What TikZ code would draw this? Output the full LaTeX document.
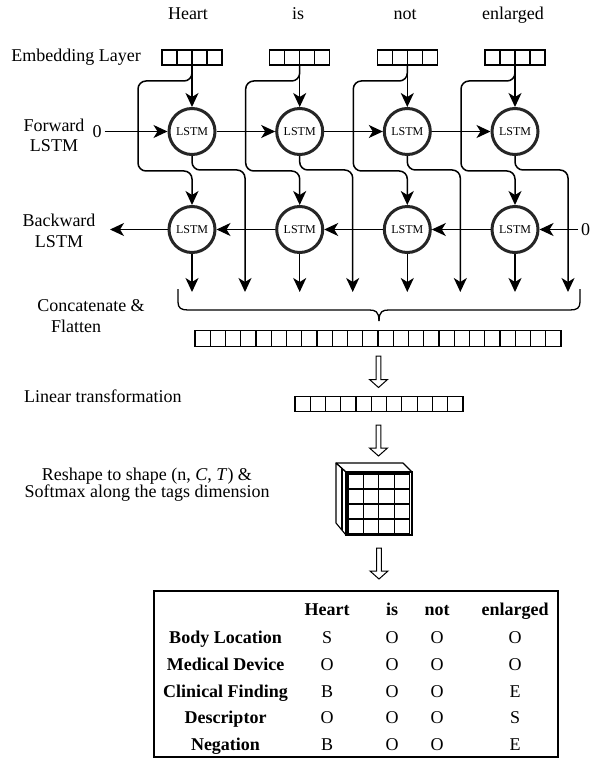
\documentclass[tikz,border=0pt]{standalone}
\usepackage{fontspec}
\setmainfont{Liberation Serif}
\usetikzlibrary{arrows.meta}
\newcommand\myhollow[3]{%
  \draw[hollowarr] ({#1-2.3},#2) -- ({#1+2.3},#2) -- ({#1+2.3},{#3-8}) -- ({#1+9},{#3-8}) -- (#1,#3) -- ({#1-9},{#3-8}) -- ({#1-2.3},{#3-8}) -- cycle;}
\begin{document}
\begin{tikzpicture}[x=1pt,y=-1pt,
  lbl/.style={font=\fontsize{18}{20}\selectfont, inner sep=0pt, anchor=base},
  zero/.style={font=\fontsize{18}{20}\selectfont, inner sep=3pt},
  lstm/.style={circle, draw=black!85, line width=3pt, minimum size=46pt, inner sep=0pt, font=\fontsize{12}{14}\selectfont},
  conn/.style={line width=1.5pt, -{Stealth[length=14pt,width=13pt,inset=4pt]}},
  embbox/.style={draw, line width=1.3pt, minimum width=60pt, minimum height=15pt, inner sep=0pt, outer sep=0pt},
  vecbox/.style={draw, line width=1.3pt, minimum height=15.5pt, inner sep=0pt, outer sep=0pt},
  hollowarr/.style={draw, line width=1pt, fill=white},
  cubeline/.style={line width=1.1pt, line join=round},
]
\useasboundingbox (0,0) rectangle (589,759);

% word labels
\node[lbl] (w1) at (188,20) {Heart};
\node[lbl] (w2) at (298,20) {is};
\node[lbl] (w3) at (405,20) {not};
\node[lbl] (w4) at (513,20) {enlarged};

% left labels
\node[lbl] (lemb) at (76,61.5) {Embedding Layer};
\node[lbl] (lf1) at (54,132) {Forward};
\node[lbl] (lf2) at (54,152) {LSTM};
\node[lbl] (lb1) at (59,226.5) {Backward};
\node[lbl] (lb2) at (59,247) {LSTM};
\node[lbl] (lc1) at (91,311) {Concatenate \&};
\node[lbl] (lc2) at (76,332) {Flatten};
\node[lbl, anchor=base west] (llin) at (24,402) {Linear transformation};
\node[lbl] (lr1) at (147,480.5) {Reshape to shape (n, \textit{C}, \textit{T}) \&};
\node[lbl] (lr2) at (147,497) {Softmax along the tags dimension};

% columns
\foreach \i/\cx in {1/192,2/299.7,3/407.3,4/515}{
  \node[embbox] (e\i) at (\cx,57.5) {};
  \foreach \k in {1,2,3}
    \draw[line width=1.3pt] ([xshift={\k*15pt}]e\i.south west) -- ([xshift={\k*15pt}]e\i.north west);
  \node[lstm] (f\i) at (\cx,131.5) {LSTM};
  \node[lstm] (b\i) at (\cx,229.5) {LSTM};
  \coordinate (o\i) at (\cx,292);
  \coordinate (p\i) at ({\cx+53},292);
  \draw[conn] (e\i.south) -- (f\i.north);
  \draw[conn, rounded corners=8pt] (e\i.south) |- ({\cx-54},81) |- (\cx,171) -- (b\i.north);
  \draw[conn, rounded corners=8pt] (f\i.south) |- ({\cx+53},170) -- (p\i);
  \draw[conn] (b\i.south) -- (o\i);
}

% forward chain
\node[zero] (z1) at (97,131.5) {0};
\draw[conn] (z1) -- (f1);
\draw[conn] (f1) -- (f2);
\draw[conn] (f2) -- (f3);
\draw[conn] (f3) -- (f4);

% backward chain
\node[zero, anchor=west] (z2) at (578,229.5) {0};
\coordinate (bl) at (110,229.5);
\draw[conn] (z2) -- (b4);
\draw[conn] (b4) -- (b3);
\draw[conn] (b3) -- (b2);
\draw[conn] (b2) -- (b1);
\draw[conn] (b1) -- (bl);

% brace
\draw[line width=1.3pt] (178,289) -- (178,302) .. controls (178,308) and (181,310) .. (188,310) -- (369,310) .. controls (375,310) and (379,311) .. (379,321);
\draw[line width=1.3pt] (580,289) -- (580,302) .. controls (580,308) and (577,310) .. (570,310) -- (389,310) .. controls (383,310) and (379,311) .. (379,321);

% concatenated vector
\node[vecbox, minimum width=366pt] (cv) at (378,338.5) {};
\foreach \k in {1,...,23}
  \draw[line width=1.2pt] ([xshift={\k*15.25pt}]cv.south west) -- ([xshift={\k*15.25pt}]cv.north west);

\myhollow{378.5}{356}{387.5}

% linear vector
\node[vecbox, minimum width=168pt] (lv) at (379,404) {};
\foreach \k in {1,...,10}
  \draw[line width=1.2pt] ([xshift={\k*15.27pt}]lv.south west) -- ([xshift={\k*15.27pt}]lv.north west);

\myhollow{378.5}{425}{456}

% cube
\draw[cubeline] (336,463) -- (403,463) -- (412,472) -- (346,472) -- cycle;
\draw[cubeline] (336,463) -- (346,472) -- (346,535) -- (336,523) -- cycle;
\draw[cubeline] (342,468.4) -- (342,530.2);
\node[draw, line width=1.1pt, minimum width=66pt, minimum height=63pt, inner sep=0pt, outer sep=0pt] (cube) at (379,503.5) {};
\draw[line width=1.2pt] (348,474) rectangle (409.5,534);
\foreach \k in {1,2,3}{
  \draw[line width=1.2pt] ({348+\k*15.375},474) -- ({348+\k*15.375},534);
  \draw[line width=1.2pt] (348,{474+\k*15}) -- (409.5,{474+\k*15});
}

\myhollow{379}{548}{579}

% table
\node[draw, line width=2.8pt, minimum width=404pt, minimum height=166pt, inner sep=0pt] (tbl) at (356,674) {};
\node[lbl, font=\fontsize{18}{20}\selectfont\bfseries] (h1) at (327,615) {Heart};
\node[lbl, font=\fontsize{18}{20}\selectfont\bfseries] (h2) at (392,615) {is};
\node[lbl, font=\fontsize{18}{20}\selectfont\bfseries] (h3) at (437,615) {not};
\node[lbl, font=\fontsize{18}{20}\selectfont\bfseries] (h4) at (515,615) {enlarged};
\foreach \r/\y/\name/\a/\b/\c/\d in {1/643/Body Location/S/O/O/O, 2/670/Medical Device/O/O/O/O, 3/697/Clinical Finding/B/O/O/E, 4/723/Descriptor/O/O/O/S, 5/750/Negation/B/O/O/E}{
  \node[lbl, font=\fontsize{18}{20}\selectfont\bfseries] (r\r) at (225.5,\y) {\name};
  \node[lbl] (r\r a) at (327,\y) {\a};
  \node[lbl] (r\r b) at (392,\y) {\b};
  \node[lbl] (r\r c) at (437,\y) {\c};
  \node[lbl] (r\r d) at (515,\y) {\d};
}
\end{tikzpicture}
\end{document}
